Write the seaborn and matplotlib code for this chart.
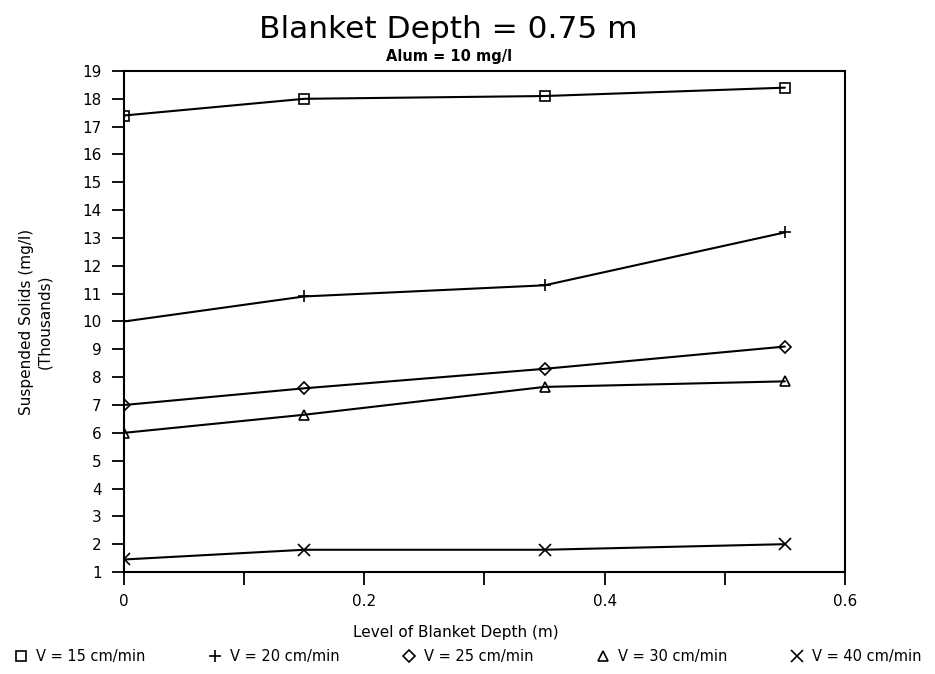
import matplotlib
matplotlib.use("Agg")
import matplotlib.pyplot as plt
from matplotlib.lines import Line2D
import seaborn as sns
import pandas as pd

# Sampling levels within the sludge blanket (m)
levels = [0.0, 0.15, 0.35, 0.55]

# Suspended solids (thousands of mg/l) for each upflow velocity
ss_v15 = [17.4, 18.0, 18.1, 18.4]
ss_v20 = [10.0, 10.9, 11.3, 13.2]
ss_v25 = [7.0, 7.6, 8.3, 9.1]
ss_v30 = [6.0, 6.65, 7.65, 7.85]
ss_v40 = [1.45, 1.8, 1.8, 2.0]

series_labels = ["V = 15 cm/min", "V = 20 cm/min", "V = 25 cm/min",
                 "V = 30 cm/min", "V = 40 cm/min"]
series_values = [ss_v15, ss_v20, ss_v25, ss_v30, ss_v40]
series_markers = ["s", "+", "D", "^", "x"]
marker_sizes = [7, 9, 6, 7, 8]

x_ticks = [0, 0.2, 0.4, 0.6]
x_tick_labels = ["0", "0.2", "0.4", "0.6"]
x_minor = [0.1, 0.3, 0.5]
y_ticks = list(range(1, 20))

sns.set_style("white")
plt.rcParams["font.family"] = ["DejaVu Sans"]
plt.rcParams["text.color"] = "black"
plt.rcParams["axes.labelcolor"] = "black"
plt.rcParams["xtick.color"] = "black"
plt.rcParams["ytick.color"] = "black"

fig = plt.figure(figsize=(9.35, 6.74), dpi=100)
ax = fig.add_axes([0.1326, 0.1513, 0.7711, 0.7434])

rows = []
for lab, vals in zip(series_labels, series_values):
    for xv, yv in zip(levels, vals):
        rows.append({"level": xv, "ss": yv, "series": lab})
df = pd.DataFrame(rows)

handles = []
for lab, mk, ms in zip(series_labels, series_markers, marker_sizes):
    sub = df[df["series"] == lab]
    sns.lineplot(data=sub, x="level", y="ss", ax=ax, color="black",
                 linewidth=1.5, marker=mk, markersize=ms,
                 markerfacecolor="none", markeredgecolor="black",
                 markeredgewidth=1.2, legend=False)
    handles.append(Line2D([], [], linestyle="none", marker=mk, markersize=ms,
                          markerfacecolor="none", markeredgecolor="black",
                          markeredgewidth=1.2, label=lab))

ax.set_xlim(0, 0.6)
ax.set_ylim(1, 19)
ax.set_xticks(x_ticks)
ax.set_xticklabels(x_tick_labels)
ax.set_xticks(x_minor, minor=True)
ax.set_yticks(y_ticks)
ax.tick_params(axis="both", which="both", direction="out", length=9,
               width=1.3, color="black", labelsize=11, pad=7)
ax.tick_params(axis="y", which="both", left=True)
ax.tick_params(axis="x", which="both", bottom=True)
for sp in ax.spines.values():
    sp.set_visible(True)
    sp.set_color("black")
    sp.set_linewidth(1.5)
ax.set_xlabel("")
ax.set_ylabel("Suspended Solids (mg/l)\n(Thousands)", fontsize=11,
              labelpad=22)

fig.text(0.479, 1 - 30 / 674, "Blanket Depth = 0.75 m", ha="center",
         va="center", fontsize=22.5)
fig.text(0.480, 1 - 57 / 674, "Alum = 10 mg/l", ha="center", va="center",
         fontsize=10.5, fontweight="bold")
fig.text(0.488, 1 - 632 / 674, "Level of Blanket Depth (m)", ha="center",
         va="center", fontsize=11)

fig.legend(handles=handles, loc="center", ncol=5, frameon=False,
           bbox_to_anchor=(0.500, 1 - 657 / 674), fontsize=10.5,
           columnspacing=4.3, handletextpad=0.5, handlelength=1.0)

fig.savefig("out.png", dpi=100)
